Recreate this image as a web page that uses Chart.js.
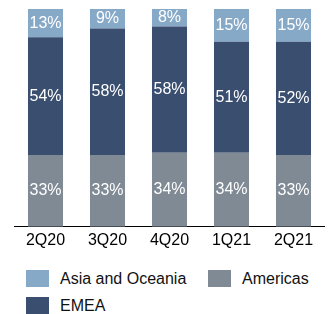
<!DOCTYPE html>
<html>
<head>
<meta charset="utf-8">
<script src="https://cdn.jsdelivr.net/npm/chart.js@4"></script>
<style>
  body { margin: 0; background: #fff; font-family: 'Liberation Sans', Arial, sans-serif; }
  .wrap { position: relative; width: 330px; height: 314px; overflow: hidden; }
  #legend { position: absolute; left: 26px; top: 270px; width: 304px; display: grid; grid-template-columns: 182px 1fr; row-gap: 10px; }
  .item { display: flex; align-items: center; height: 17px; font-size: 16px; color: #111; white-space: nowrap; }
  .box { width: 23px; height: 17px; margin-right: 11px; flex: none; }
</style>
</head>
<body>
<div class="wrap">
  <canvas id="regionChart" width="330" height="262"></canvas>
  <div id="legend"></div>
</div>
<script>
// 四半期ごとの地域別構成比（%）
const quarters = ['2Q20', '3Q20', '4Q20', '1Q21', '2Q21'];
const americas = [33, 33, 34, 34, 33];
const emea = [54, 58, 58, 51, 52];
const asiaOceania = [13, 9, 8, 15, 15];
const legendOrder = ['Asia and Oceania', 'Americas', 'EMEA'];

const FONT = "'Liberation Sans', Arial, sans-serif";

// 各セグメントの中央に%を描く
const barLabels = {
  id: 'barLabels',
  afterDatasetsDraw(chart) {
    const ctx = chart.ctx;
    ctx.save();
    ctx.font = '16px ' + FONT;
    ctx.fillStyle = '#fff';
    ctx.textAlign = 'center';
    ctx.textBaseline = 'middle';
    chart.data.datasets.forEach(function (ds, i) {
      chart.getDatasetMeta(i).data.forEach(function (bar, j) {
        ctx.fillText(ds.data[j] + '%', bar.x, (bar.y + bar.base) / 2);
      });
    });
    ctx.restore();
  }
};

// HTML凡例（2列で左寄せ）
const htmlLegend = {
  id: 'htmlLegend',
  afterUpdate(chart) {
    const box = document.getElementById('legend');
    box.innerHTML = '';
    const items = chart.options.plugins.legend.labels.generateLabels(chart);
    items.sort(function (a, b) {
      return legendOrder.indexOf(a.text) - legendOrder.indexOf(b.text);
    });
    items.forEach(function (item) {
      const row = document.createElement('div');
      row.className = 'item';
      const sw = document.createElement('span');
      sw.className = 'box';
      sw.style.background = item.fillStyle;
      const txt = document.createElement('span');
      txt.textContent = item.text;
      row.appendChild(sw);
      row.appendChild(txt);
      box.appendChild(row);
    });
  }
};

const ctx = document.getElementById('regionChart').getContext('2d');
new Chart(ctx, {
  type: 'bar',
  data: {
    labels: quarters,
    datasets: [
      { label: 'Americas', data: americas, backgroundColor: '#7f8a95' },
      { label: 'EMEA', data: emea, backgroundColor: '#3a4e70' },
      { label: 'Asia and Oceania', data: asiaOceania, backgroundColor: '#87a9c8' }
    ]
  },
  options: {
    responsive: false,
    animation: false,
    layout: { padding: { top: 9, left: 14.5, right: 5.5, bottom: 7 } },
    datasets: {
      bar: { categoryPercentage: 1, barPercentage: 0.565 }
    },
    scales: {
      x: {
        stacked: true,
        grid: { display: false, drawTicks: false },
        border: { display: true, color: '#000', width: 1 },
        ticks: { color: '#000', padding: 4.5, font: { size: 16, family: FONT } }
      },
      y: {
        stacked: true,
        display: false,
        min: 0,
        max: 100
      }
    },
    plugins: {
      legend: { display: false },
      tooltip: { enabled: false }
    }
  },
  plugins: [barLabels, htmlLegend]
});
</script>
</body>
</html>
